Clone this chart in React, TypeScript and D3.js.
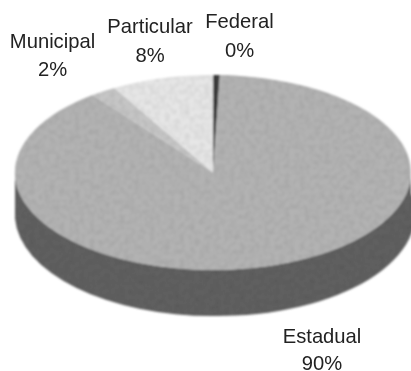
import React, { useMemo } from "react";
import * as d3 from "d3";

const categories = ["Federal", "Estadual", "Municipal", "Particular"];
const labels = ["0%", "90%", "2%", "8%"];
const drawnValues = [0.55, 89.05, 2.1, 8.3];
const topColors = ["#3c3c3c", "#b3b3b3", "#c6c6c6", "#e6e6e6"];
const labelAnchors: [number, number, number][] = [[239.5, 28, 57], [322, 343, 369.5], [52.5, 48, 76], [150, 33, 62]];

const W = 411, H = 371;
const cx = 213, cy = 172.5, rx = 198, ry = 97.5, depth = 46;

export default function App() {
  const arcs = useMemo(() => d3.pie<number>().sort(null)(drawnValues), []);
  const arcGen = d3.arc<d3.PieArcDatum<number>>().innerRadius(0).outerRadius(1);
  const side = `M${cx - rx},${cy} A${rx},${ry} 0 0 0 ${cx + rx},${cy} L${cx + rx},${cy + depth * 0.45} A${rx},${ry + depth * 0.1} 0 0 1 ${cx},${cy + ry + depth} A${rx},${ry + depth * 0.1} 0 0 1 ${cx - rx},${cy + depth} Z`;
  return (
    <svg width={W} height={H} style={{ position: "absolute", left: 0, top: 0, background: "#fff" }}>
      <defs>
        <filter id="scan" x="-5%" y="-5%" width="110%" height="110%">
          <feGaussianBlur stdDeviation="0.75" />
        </filter>
        <filter id="grain" x="-5%" y="-5%" width="110%" height="110%">
          <feTurbulence type="fractalNoise" baseFrequency="0.2" numOctaves="2" seed="4" result="n" />
          <feColorMatrix in="n" type="matrix" values="0 0 0 0 0.5  0 0 0 0 0.5  0 0 0 0 0.5  0.6 0 0 0 -0.2" result="g" />
          <feComposite in="g" in2="SourceGraphic" operator="in" result="gc" />
          <feBlend in="SourceGraphic" in2="gc" mode="multiply" result="b" />
          <feGaussianBlur in="b" stdDeviation="0.8" />
        </filter>
      </defs>
      <g filter="url(#grain)">
        <path d={side} fill="#606060" />
        <g transform={`translate(${cx},${cy}) scale(${rx},${ry})`}>
          {arcs.map((a, i) => (
            <path key={categories[i]} d={arcGen(a) ?? ""} fill={topColors[i]} />
          ))}
        </g>
      </g>
      <g filter="url(#scan)" fontFamily="'Liberation Sans', Arial, sans-serif" fontSize={20.2} fill="#222" textAnchor="middle">
        {categories.map((c, i) => (
          <text key={c} x={labelAnchors[i][0]} y={labelAnchors[i][1]}>
            <tspan x={labelAnchors[i][0]}>{c}</tspan>
            <tspan x={labelAnchors[i][0]} y={labelAnchors[i][2]}>{labels[i]}</tspan>
          </text>
        ))}
      </g>
    </svg>
  );
}
